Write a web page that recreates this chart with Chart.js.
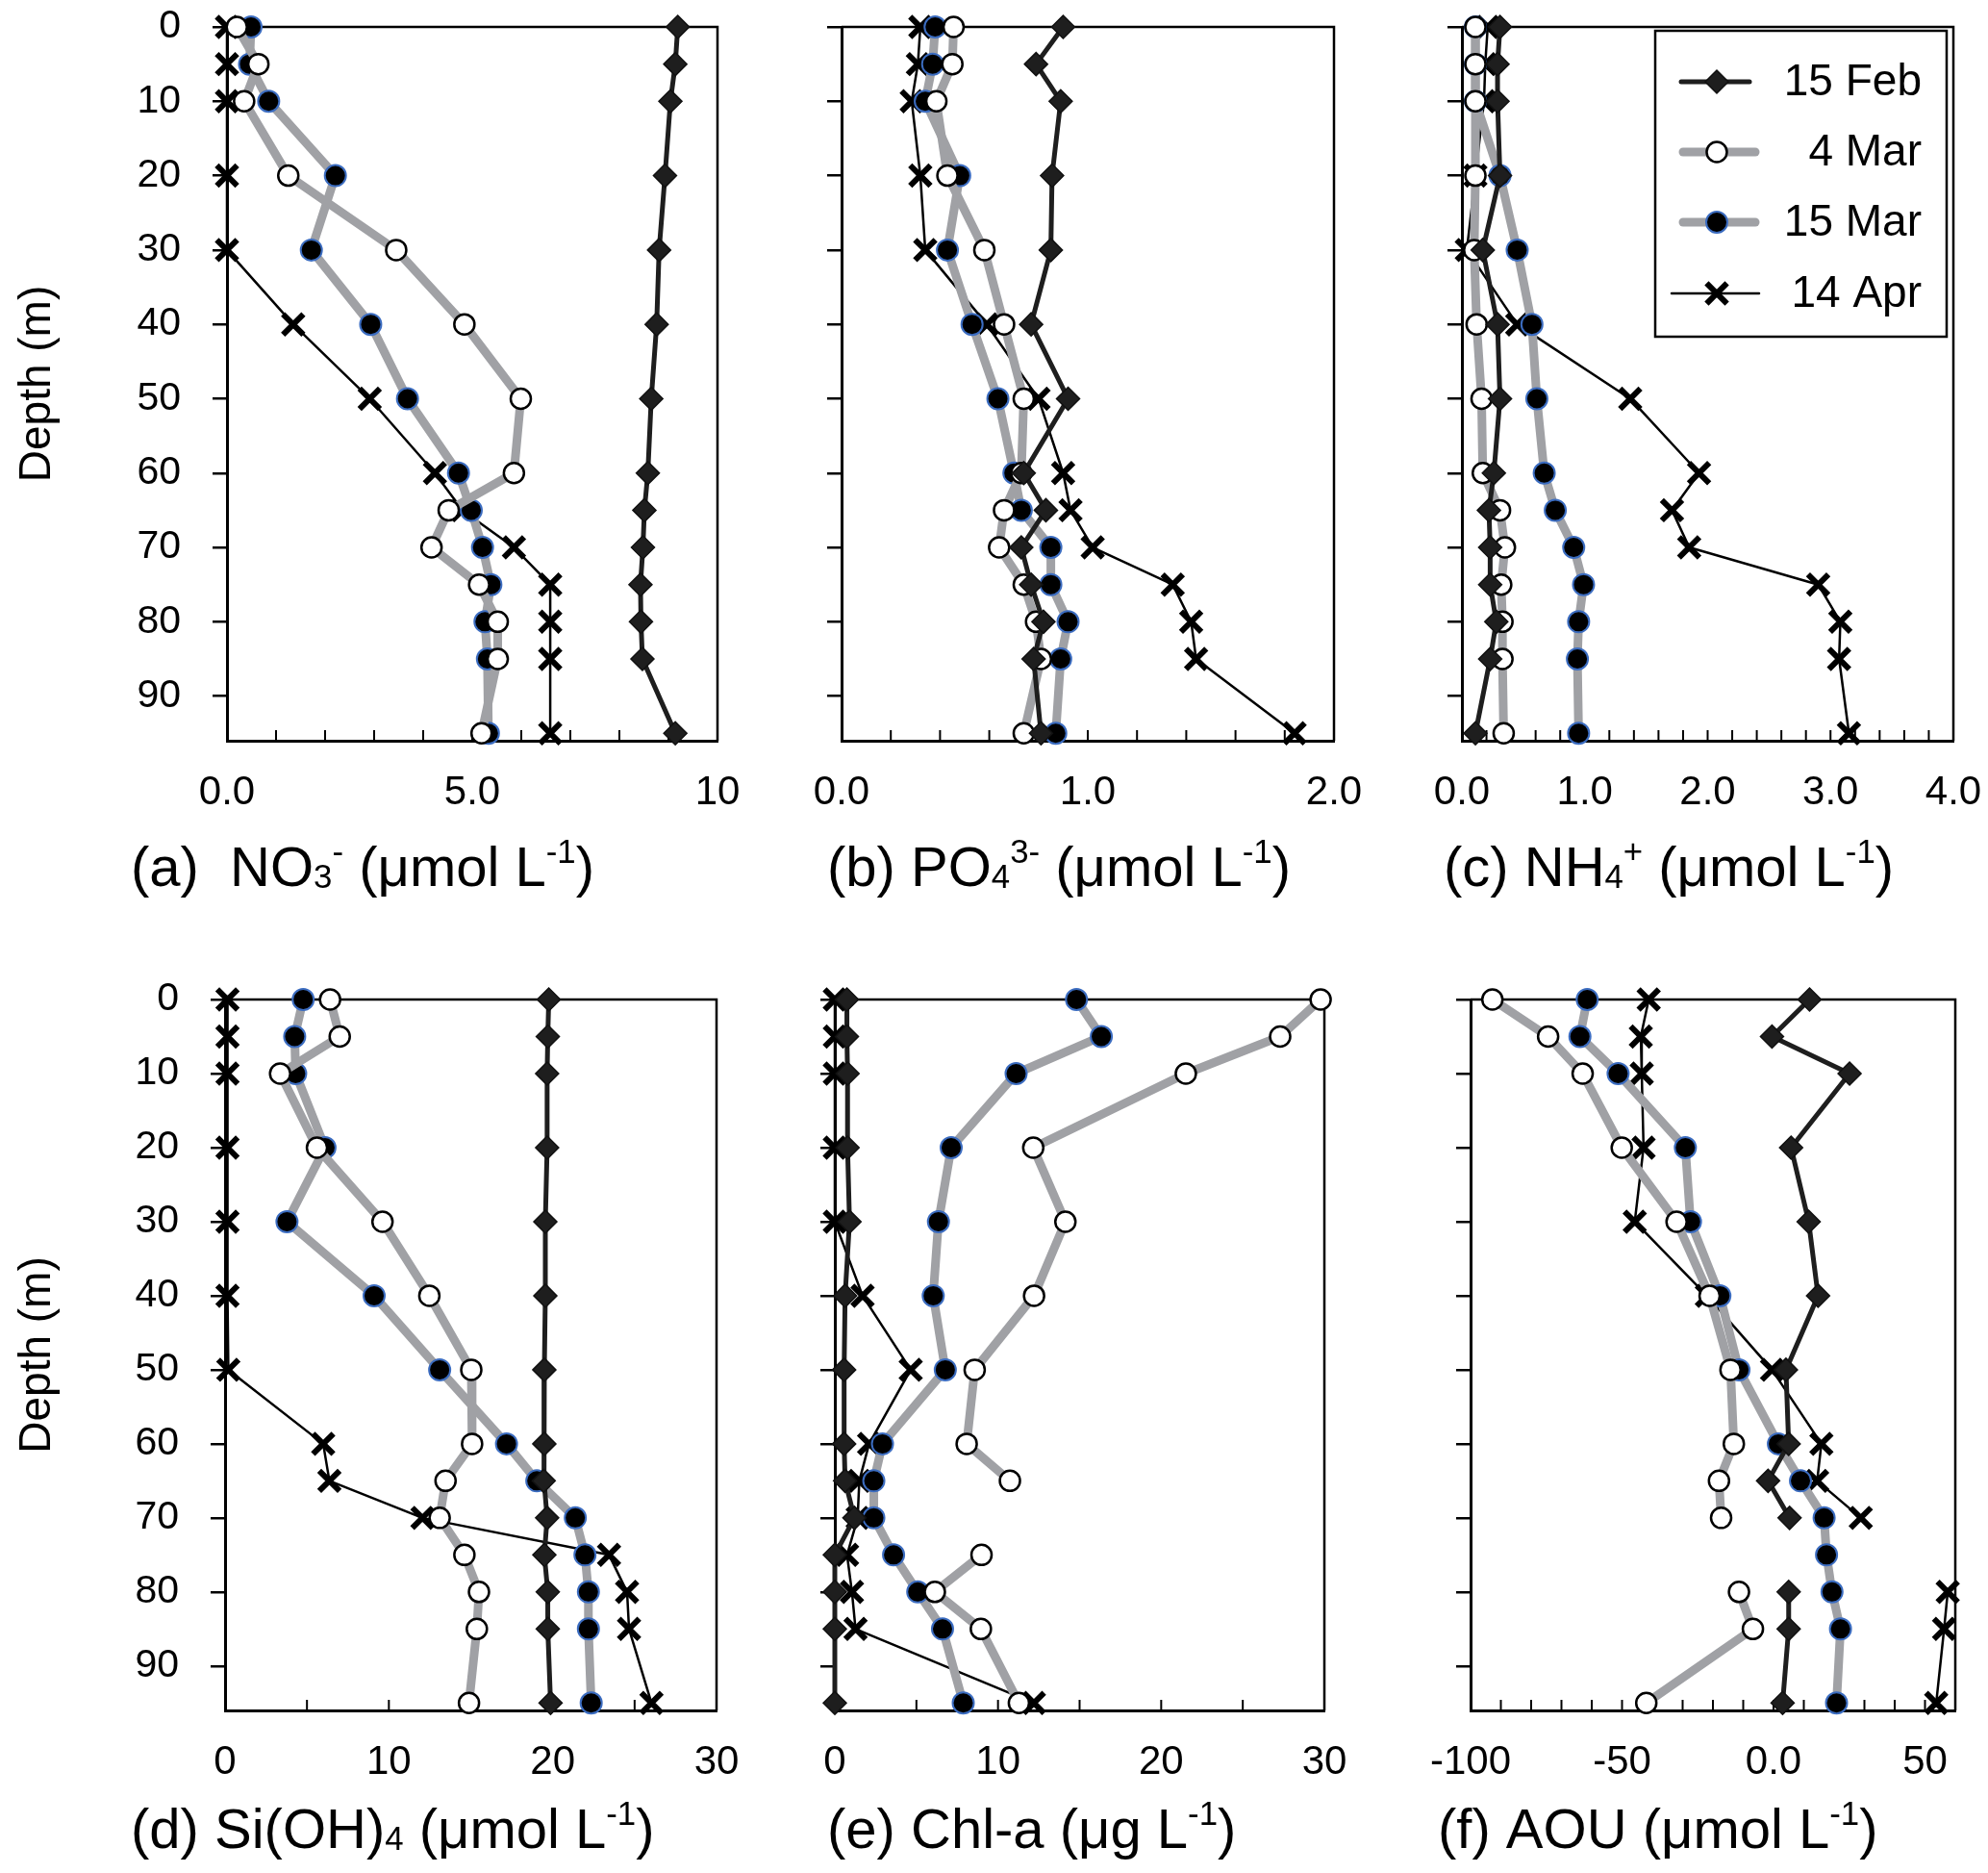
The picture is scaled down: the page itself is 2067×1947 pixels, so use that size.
<!DOCTYPE html>
<html>
<head>
<meta charset="utf-8">
<script src="https://cdn.jsdelivr.net/npm/chart.js@4.4.1/dist/chart.umd.min.js"></script>
<style>
  body { margin: 0; background: #fff; }
  #page { position: relative; width: 2067px; height: 1947px; overflow: hidden; background: #fff; }
  #page canvas { position: absolute; }
</style>
</head>
<body>
<div id="page"></div>
<script>
// Depths (m), shared by every panel
const depths = [0, 5, 10, 20, 30, 40, 50, 60, 65, 70, 75, 80, 85, 95]
const seriesNames = ['15 Feb', '4 Mar', '15 Mar', '14 Apr']

// (a) NO3-
const no3Feb15 = [9.19, 9.14, 9.04, 8.93, 8.81, 8.76, 8.65, 8.58, 8.51, 8.48, 8.43, 8.44, 8.47, 9.14]
const no3Mar4 = [0.20, 0.64, 0.35, 1.25, 3.45, 4.84, 5.99, 5.85, 4.52, 4.17, 5.14, 5.52, 5.52, 5.19]
const no3Mar15 = [0.49, 0.46, 0.85, 2.21, 1.72, 2.93, 3.68, 4.72, 4.98, 5.21, 5.38, 5.26, 5.31, 5.33]
const no3Apr14 = [0, 0, 0, 0, 0, 1.35, 2.91, 4.24, 4.8, 5.85, 6.59, 6.59, 6.59, 6.59]
const no3TickVals = [0, 5, 10]
const no3TickText = ['0.0', '5.0', '10']

// (b) PO4 3-
const po4Feb15 = [0.90, 0.79, 0.89, 0.855, 0.85, 0.77, 0.92, 0.74, 0.83, 0.73, 0.77, 0.82, 0.78, 0.81]
const po4Mar4 = [0.455, 0.45, 0.385, 0.43, 0.58, 0.66, 0.74, 0.73, 0.66, 0.64, 0.74, 0.79, 0.81, 0.74]
const po4Mar15 = [0.38, 0.37, 0.34, 0.48, 0.43, 0.53, 0.635, 0.70, 0.73, 0.85, 0.85, 0.92, 0.89, 0.87]
const po4Apr14 = [0.32, 0.31, 0.285, 0.32, 0.34, 0.59, 0.80, 0.90, 0.93, 1.02, 1.345, 1.42, 1.44, 1.84]
const po4TickVals = [0, 1, 2]
const po4TickText = ['0.0', '1.0', '2.0']

// (c) NH4+
const nh4Feb15 = [0.31, 0.29, 0.29, 0.31, 0.17, 0.29, 0.31, 0.26, 0.22, 0.23, 0.23, 0.28, 0.23, 0.11]
const nh4Mar4 = [0.11, 0.11, 0.11, 0.11, 0.10, 0.12, 0.16, 0.17, 0.31, 0.35, 0.32, 0.33, 0.33, 0.34]
const nh4Mar15 = [0.11, 0.11, 0.11, 0.31, 0.45, 0.57, 0.61, 0.67, 0.76, 0.91, 0.99, 0.95, 0.94, 0.95]
const nh4Apr14 = [0.21, 0.19, 0.18, 0.11, 0.04, 0.45, 1.37, 1.93, 1.71, 1.85, 2.90, 3.08, 3.07, 3.15]
const nh4TickVals = [0, 1, 2, 3, 4]
const nh4TickText = ['0.0', '1.0', '2.0', '3.0', '4.0']

// (d) Si(OH)4
const siFeb15 = [19.76, 19.70, 19.66, 19.66, 19.55, 19.55, 19.49, 19.49, 19.45, 19.66, 19.49, 19.70, 19.70, 19.87]
const siMar4 = [6.41, 7.00, 3.36, 5.61, 9.61, 12.47, 15.03, 15.08, 13.46, 13.10, 14.61, 15.50, 15.37, 14.89]
const siMar15 = [4.77, 4.25, 4.31, 6.10, 3.78, 9.10, 13.10, 17.18, 19.03, 21.38, 21.97, 22.18, 22.18, 22.35]
const siApr14 = [0.15, 0.15, 0.15, 0.15, 0.15, 0.15, 0.2, 5.99, 6.37, 12.05, 23.44, 24.54, 24.66, 26.03]
const siTickVals = [0, 10, 20, 30]
const siTickText = ['0', '10', '20', '30']

// (e) Chl-a
const chlFeb15 = [0.74, 0.74, 0.78, 0.78, 0.9, 0.63, 0.57, 0.57, 0.63, 1.2, 0, 0, 0, 0]
const chlMar4 = [29.77, 27.29, 21.51, 12.16, 14.13, 12.21, 8.57, 8.08, 10.73, null, 8.99, 6.13, 8.95, 11.28]
const chlMar15 = [14.81, 16.33, 11.11, 7.13, 6.35, 6.03, 6.77, 2.92, 2.39, 2.39, 3.60, 5.08, 6.60, 7.87]
const chlApr14 = [0, 0, 0, 0, 0, 1.7, 4.65, 2.1, 1.5, 1.4, 0.75, 1.05, 1.27, 12.2]
const chlTickVals = [0, 10, 20, 30]
const chlTickText = ['0', '10', '20', '30']

// (f) AOU
const aouFeb15 = [11.9, -0.5, 25.1, 5.8, 11.6, 14.7, 4.1, 5.0, -1.8, 5.3, null, 5.0, 5.0, 3.0]
const aouMar4 = [-92.8, -74.4, -63.0, -50.1, -32.0, -21.1, -14.2, -13.1, -18.0, -17.3, null, -11.4, -6.8, -42.0]
const aouMar15 = [-61.5, -63.9, -51.3, -29.1, -27.4, -17.7, -11.4, 1.6, 8.9, 16.7, 17.5, 19.3, 22.1, 20.8]
const aouApr14 = [-41.2, -43.8, -43.5, -42.9, -45.8, -22.0, -0.5, 15.8, 14.4, 28.8, null, 57.5, 56.3, 53.7]
const aouTickVals = [-100, -50, 0, 50]
const aouTickText = ['-100', '-50', '0.0', '50']

const FONT = '"Liberation Sans", Arial, Helvetica, sans-serif'
Chart.defaults.font.family = FONT
Chart.defaults.color = '#000'

const GRAY = '#a0a1a5'
const estilos = [
  { borderColor: '#1e1e1e', borderWidth: 5, pointStyle: 'rectRot', pointRadius: 12, pointBackgroundColor: '#1e1e1e', pointBorderColor: '#111', pointBorderWidth: 1.5 },
  { borderColor: GRAY, borderWidth: 9, pointStyle: 'circle', pointRadius: 10.5, pointBackgroundColor: '#fff', pointBorderColor: '#000', pointBorderWidth: 2.5 },
  { borderColor: GRAY, borderWidth: 9, pointStyle: 'circle', pointRadius: 11, pointBackgroundColor: '#000', pointBorderColor: '#3b6cc0', pointBorderWidth: 2 },
  { borderColor: '#000', borderWidth: 2.5, pointStyle: 'crossRot', pointRadius: 15, pointBackgroundColor: '#000', pointBorderColor: '#000', pointBorderWidth: 6 }
]

// canvas box and plot box in page pixels
const paneles = [
  { canvas: [0, 0, 800, 960], plot: [236, 746, 28, 770], series: [no3Feb15, no3Mar4, no3Mar15, no3Apr14], min: 0, max: 10, step: 1, tv: no3TickVals, tt: no3TickText, depth: true,
    title: [['(a)  NO', ''], ['3', 'sub'], ['-', 'sup'], [' (μmol L', ''], ['-1', 'sup'], [')', '']], titleX: 136, titleY: 921 },
  { canvas: [765, 0, 672, 960], plot: [875, 1387, 28, 770], series: [po4Feb15, po4Mar4, po4Mar15, po4Apr14], min: 0, max: 2, step: 0.2, tv: po4TickVals, tt: po4TickText,
    title: [['(b) PO', ''], ['4', 'sub'], ['3-', 'sup'], [' (μmol L', ''], ['-1', 'sup'], [')', '']], titleX: 860, titleY: 921 },
  { canvas: [1408, 0, 659, 960], plot: [1520, 2031, 28, 770], series: [nh4Feb15, nh4Mar4, nh4Mar15, nh4Apr14], min: 0, max: 4, step: 0.2, tv: nh4TickVals, tt: nh4TickText, legend: true,
    title: [['(c) NH', ''], ['4', 'sub'], ['+', 'sup'], [' (μmol L', ''], ['-1', 'sup'], [')', '']], titleX: 1501, titleY: 921 },
  { canvas: [0, 990, 800, 957], plot: [234, 745, 1039, 1778], series: [siFeb15, siMar4, siMar15, siApr14], min: 0, max: 30, step: 5, tv: siTickVals, tt: siTickText, depth: true,
    title: [['(d) Si(OH)', ''], ['4', 'sub'], [' (μmol L', ''], ['-1', 'sup'], [')', '']], titleX: 136, titleY: 1921 },
  { canvas: [757, 990, 670, 957], plot: [868, 1377, 1039, 1778], series: [chlFeb15, chlMar4, chlMar15, chlApr14], min: 0, max: 30, step: 5, tv: chlTickVals, tt: chlTickText,
    title: [['(e) Chl-a (μg L', ''], ['-1', 'sup'], [')', '']], titleX: 860, titleY: 1921 },
  { canvas: [1415, 990, 652, 957], plot: [1529, 2033, 1039, 1778], series: [aouFeb15, aouMar4, aouMar15, aouApr14], min: -100, max: 60, step: 10, tv: aouTickVals, tt: aouTickText,
    title: [['(f) AOU (μmol L', ''], ['-1', 'sup'], [')', '']], titleX: 1495, titleY: 1921 }
]

function drawRich(ctx, parts, x, y, size) {
  let cx = x
  parts.forEach(([txt, kind]) => {
    const s = kind ? size * 0.6 : size
    const dy = kind === 'sup' ? -size * 0.42 : (kind === 'sub' ? size * 0.03 : 0)
    ctx.font = s + 'px ' + FONT
    ctx.fillText(txt, cx, y + dy)
    cx += ctx.measureText(txt).width
  })
}

function drawLegend(chart, offX, offY) {
  const ctx = chart.ctx
  ctx.fillStyle = '#fff'
  ctx.fillRect(1721 - offX, 32 - offY, 303, 318)
  ctx.strokeStyle = '#000'
  ctx.lineWidth = 2.5
  ctx.strokeRect(1721 - offX, 32 - offY, 303, 318)
  const filasY = [85, 158, 231, 305]
  const tramos = [[1748, 1819], [1750, 1825], [1750, 1825], [1738, 1829]]
  chart.data.datasets.forEach((ds, i) => {
    const y = filasY[i] - offY
    ctx.strokeStyle = ds.borderColor
    ctx.lineWidth = ds.borderWidth
    ctx.lineCap = 'round'
    ctx.beginPath()
    ctx.moveTo(tramos[i][0] - offX, y)
    ctx.lineTo(tramos[i][1] - offX, y)
    ctx.stroke()
    ctx.lineCap = 'butt'
    ctx.fillStyle = ds.pointBackgroundColor
    ctx.strokeStyle = ds.pointBorderColor
    ctx.lineWidth = ds.pointBorderWidth
    Chart.helpers.drawPoint(ctx, { pointStyle: ds.pointStyle, radius: ds.pointRadius, rotation: 0, borderWidth: ds.pointBorderWidth }, 1785 - offX, y)
    ctx.fillStyle = '#000'
    ctx.font = '46px ' + FONT
    ctx.textAlign = 'right'
    ctx.textBaseline = 'middle'
    ctx.fillText(ds.label, 1998 - offX, y + 1)
  })
}

function panelPlugin(p) {
  const [cl, ct] = p.canvas
  return {
    id: 'panel',
    beforeDatasetsDraw(chart) {
      const { ctx, chartArea: a } = chart
      const x = chart.scales.x
      ctx.save()
      ctx.strokeStyle = '#000'
      ctx.lineWidth = 2.5
      ctx.beginPath()
      ctx.moveTo(a.left, a.top)
      ctx.lineTo(a.right, a.top)
      ctx.lineTo(a.right, a.bottom)
      ctx.stroke()
      // inward tick marks on the x axis
      ctx.lineWidth = 2
      ctx.beginPath()
      x.ticks.forEach(t => {
        const px = x.getPixelForValue(t.value)
        ctx.moveTo(px, a.bottom)
        ctx.lineTo(px, a.bottom - 11)
      })
      ctx.stroke()
      ctx.restore()
    },
    afterDraw(chart) {
      const ctx = chart.ctx
      ctx.save()
      ctx.fillStyle = '#000'
      ctx.textAlign = 'left'
      ctx.textBaseline = 'alphabetic'
      drawRich(ctx, p.title, p.titleX - cl, p.titleY - ct, 58)
      if (p.legend) drawLegend(chart, cl, ct)
      ctx.restore()
    }
  }
}

// keep the plot box where it is: no extra room for label overhang
function sinPadding(s) {
  s.paddingLeft = 0
  s.paddingRight = 0
  s.paddingTop = 0
  s.paddingBottom = 0
}

function construirPanel(p) {
  const [cl, ct, cw, ch] = p.canvas
  const [x0, x1, y0, y1] = p.plot
  const canvas = document.createElement('canvas')
  canvas.width = cw
  canvas.height = ch
  canvas.style.left = cl + 'px'
  canvas.style.top = ct + 'px'
  canvas.style.width = cw + 'px'
  canvas.style.height = ch + 'px'
  document.getElementById('page').appendChild(canvas)

  const yW = x0 - cl
  const xH = ct + ch - y1
  const datasets = p.series.map((vals, i) => Object.assign({
    label: seriesNames[i],
    data: depths.map((d, k) => ({ x: vals[k], y: d })),
    showLine: true,
    fill: false,
    spanGaps: false,
    clip: false,
    borderJoinStyle: 'round',
    borderCapStyle: 'round'
  }, estilos[i]))

  new Chart(canvas.getContext('2d'), {
    type: 'scatter',
    data: { datasets },
    plugins: [panelPlugin(p)],
    options: {
      responsive: false,
      animation: false,
      devicePixelRatio: 1,
      events: [],
      layout: { padding: { top: y0 - ct, right: cl + cw - x1, left: 0, bottom: 0 } },
      plugins: { legend: { display: false }, tooltip: { enabled: false } },
      scales: {
        x: {
          type: 'linear', min: p.min, max: p.max,
          afterFit: s => { s.height = xH; sinPadding(s) },
          grid: { display: false, drawTicks: false },
          border: { display: true, color: '#000', width: 3 },
          ticks: {
            stepSize: p.step, maxTicksLimit: 100, autoSkip: false, maxRotation: 0, minRotation: 0,
            includeBounds: false, padding: 29, color: '#000', font: { size: 42, lineHeight: 1.2 },
            callback: v => {
              const k = p.tv.findIndex(t => Math.abs(t - v) < 1e-6)
              return k >= 0 ? p.tt[k] : ''
            }
          }
        },
        y: {
          type: 'linear', reverse: true, min: 0, max: 96,
          afterFit: s => { s.width = yW; sinPadding(s) },
          grid: { drawOnChartArea: false, drawTicks: true, tickLength: 15, color: '#000', lineWidth: 2.5 },
          border: { display: true, color: '#000', width: 3 },
          ticks: { stepSize: 10, maxTicksLimit: 100, includeBounds: false, display: !!p.depth, padding: 33, color: '#000', font: { size: 41 } },
          title: { display: !!p.depth, text: 'Depth (m)', color: '#000', font: { size: 46 }, padding: { top: 12, bottom: 0 } }
        }
      }
    }
  })
}

paneles.forEach(construirPanel)
</script>
</body>
</html>
